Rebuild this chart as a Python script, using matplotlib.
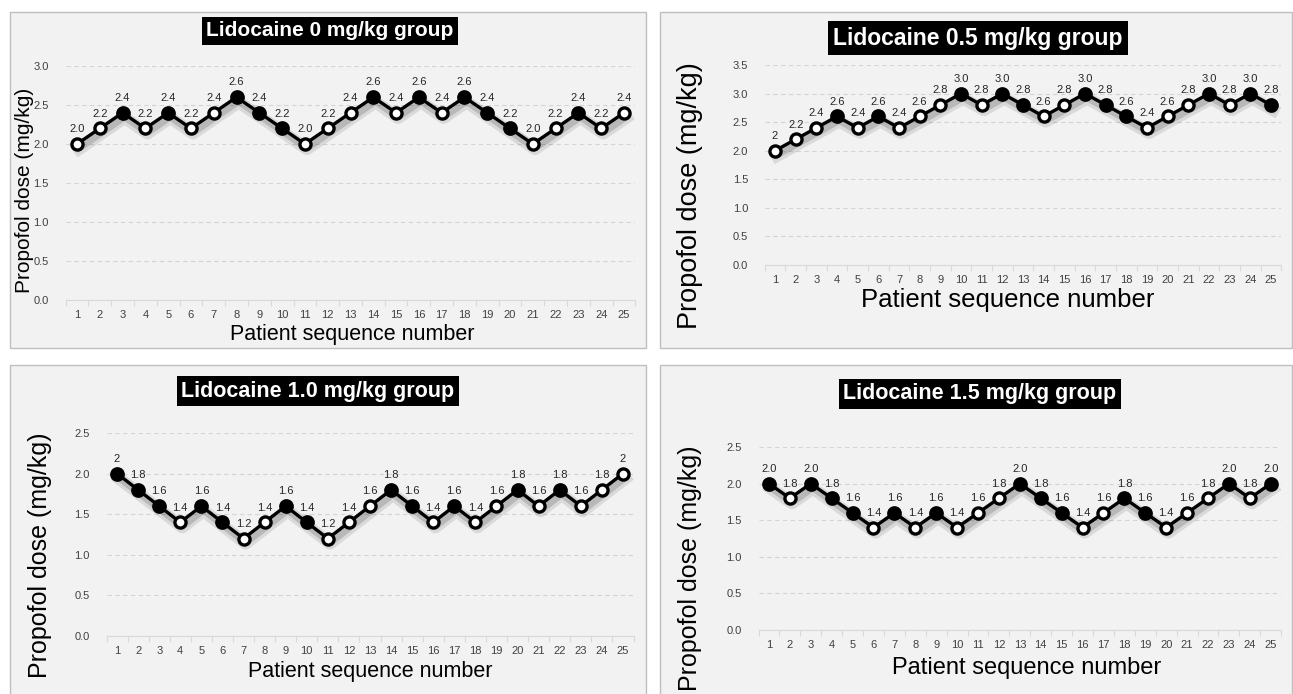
import matplotlib
matplotlib.use("Agg")
import matplotlib.pyplot as plt
import matplotlib.patheffects as pe
from matplotlib.patches import Rectangle

# --- DATA ---
patients = list(range(1, 26))

dose_0 = [2.0, 2.2, 2.4, 2.2, 2.4, 2.2, 2.4, 2.6, 2.4, 2.2, 2.0, 2.2, 2.4,
          2.6, 2.4, 2.6, 2.4, 2.6, 2.4, 2.2, 2.0, 2.2, 2.4, 2.2, 2.4]
resp_0 = [0, 0, 1, 0, 1, 0, 0, 1, 1, 1, 0, 0, 0, 1, 0, 1, 0, 1, 1, 1, 0, 0, 1, 0, 0]

dose_05 = [2.0, 2.2, 2.4, 2.6, 2.4, 2.6, 2.4, 2.6, 2.8, 3.0, 2.8, 3.0, 2.8,
           2.6, 2.8, 3.0, 2.8, 2.6, 2.4, 2.6, 2.8, 3.0, 2.8, 3.0, 2.8]
resp_05 = [0, 0, 0, 1, 0, 1, 0, 0, 0, 1, 0, 1, 1, 0, 0, 1, 1, 1, 0, 0, 0, 1, 0, 1, 1]

dose_10 = [2.0, 1.8, 1.6, 1.4, 1.6, 1.4, 1.2, 1.4, 1.6, 1.4, 1.2, 1.4, 1.6,
           1.8, 1.6, 1.4, 1.6, 1.4, 1.6, 1.8, 1.6, 1.8, 1.6, 1.8, 2.0]
resp_10 = [1, 1, 1, 0, 1, 1, 0, 0, 1, 1, 0, 0, 0, 1, 1, 0, 1, 0, 0, 1, 0, 1, 0, 0, 0]

dose_15 = [2.0, 1.8, 2.0, 1.8, 1.6, 1.4, 1.6, 1.4, 1.6, 1.4, 1.6, 1.8, 2.0,
           1.8, 1.6, 1.4, 1.6, 1.8, 1.6, 1.4, 1.6, 1.8, 2.0, 1.8, 2.0]
resp_15 = [1, 0, 1, 1, 1, 0, 1, 0, 1, 0, 0, 0, 1, 1, 1, 0, 0, 1, 1, 0, 0, 0, 1, 0, 1]

titles = ["Lidocaine 0 mg/kg group", "Lidocaine 0.5 mg/kg group",
          "Lidocaine 1.0 mg/kg group", "Lidocaine 1.5 mg/kg group"]
y_max = [3.0, 3.5, 2.5, 2.5]
# points whose label is written without a decimal ("2")
plain_labels = [[], [1], [1, 25], []]

W, H = 1293, 694
plt.rcParams['font.family'] = ['Liberation Sans', 'DejaVu Sans']

fig = plt.figure(figsize=(W / 100, H / 100), dpi=100)
fig.patch.set_facecolor('white')


def px(x0, y0, x1, y1):
    # pixel box (left, top, right, bottom) -> figure fraction rect
    return [x0 / W, 1 - y1 / H, (x1 - x0) / W, (y1 - y0) / H]


def ftext(x, y, s, **kw):
    fig.text(x / W, 1 - y / H, s, **kw)


# panel frame, axes box, title centre, ylabel centre, xlabel centre, font sizes
layout = [
    dict(frame=(10, 12, 646, 348), ax=(65.6, 66, 635.4, 300), title=(330, 31),
         ylab=(25, 190), xlab=(352, 335), tfs=15, lfs=15, xfs=15.5),
    dict(frame=(660, 12, 1292, 348), ax=(764.7, 65, 1281.3, 265), title=(978, 38),
         ylab=(690, 196), xlab=(1008, 300), tfs=16.5, lfs=19.5, xfs=18.5),
    dict(frame=(10, 365, 646, 702), ax=(106.5, 433, 633.5, 636), title=(318, 391),
         ylab=(40, 555), xlab=(370, 672), tfs=15.5, lfs=18, xfs=15.5),
    dict(frame=(660, 365, 1292, 702), ax=(758.5, 447, 1281.2, 630), title=(980, 394),
         ylab=(690, 568), xlab=(1027, 668), tfs=15.5, lfs=18, xfs=17),
]

groups = [(dose_0, resp_0), (dose_05, resp_05), (dose_10, resp_10), (dose_15, resp_15)]

shadow = [pe.SimpleLineShadow(offset=(1.5, -3.5), shadow_color='#000000', alpha=0.10, linewidth=9),
          pe.SimpleLineShadow(offset=(1.5, -3.0), shadow_color='#000000', alpha=0.15, linewidth=5),
          pe.Normal()]

for i, (dose, resp) in enumerate(groups):
    lay = layout[i]
    fx0, fy0, fx1, fy1 = lay['frame']
    fig.patches.append(Rectangle((fx0 / W, 1 - fy1 / H), (fx1 - fx0) / W, (fy1 - fy0) / H,
                                 transform=fig.transFigure, facecolor='#f2f2f2',
                                 edgecolor='#bfbfbf', linewidth=1.0, zorder=-5))

    ax = fig.add_axes(px(*lay['ax']))
    ax.set_facecolor('none')
    ax.set_xlim(0.5, 25.5)
    ax.set_ylim(0, y_max[i])

    ax.plot(patients, dose, color='black', linewidth=2.4, zorder=3, path_effects=shadow,
            clip_on=False)
    filled_x = [p for p, r in zip(patients, resp) if r == 1]
    filled_y = [d for d, r in zip(dose, resp) if r == 1]
    open_x = [p for p, r in zip(patients, resp) if r == 0]
    open_y = [d for d, r in zip(dose, resp) if r == 0]
    ax.plot(filled_x, filled_y, 'o', markersize=9, markerfacecolor='black',
            markeredgecolor='black', markeredgewidth=1.6, zorder=4, clip_on=False)
    ax.plot(open_x, open_y, 'o', markersize=8, markerfacecolor='white',
            markeredgecolor='black', markeredgewidth=2.4, zorder=4, clip_on=False)

    for p, d in zip(patients, dose):
        lbl = f"{d:.0f}" if p in plain_labels[i] else f"{d:.1f}"
        ax.annotate(lbl, (p, d), xytext=(0, 7), textcoords='offset points',
                    ha='center', va='bottom', fontsize=8, color='#262626', zorder=5)

    yt = [k * 0.5 for k in range(int(y_max[i] / 0.5) + 1)]
    ax.set_yticks(yt)
    ax.set_yticklabels([f"{v:.1f}" for v in yt])
    ax.set_xticks(patients)
    ax.set_xticklabels([str(p) for p in patients])
    ax.set_xticks([p - 0.5 for p in patients] + [25.5], minor=True)
    ax.tick_params(axis='both', which='major', length=0, labelsize=8,
                   labelcolor='#404040')
    ax.tick_params(axis='x', which='major', pad=7)
    ax.tick_params(axis='y', which='major', pad=12)
    ax.tick_params(axis='x', which='minor', length=4, color='#d9d9d9', width=0.8)
    ax.grid(axis='y', color='#d4d4d4', linestyle=(0, (4, 3)), linewidth=0.8)
    ax.set_axisbelow(True)
    for side in ['top', 'right', 'left']:
        ax.spines[side].set_visible(False)
    ax.spines['bottom'].set_color('#d9d9d9')
    ax.spines['bottom'].set_linewidth(0.8)

    tx, ty = lay['title']
    ftext(tx, ty, titles[i], ha='center', va='center', fontsize=lay['tfs'],
          fontweight='bold', color='white',
          bbox=dict(facecolor='black', edgecolor='none', boxstyle='square,pad=0.22'))
    lx, ly = lay['ylab']
    ftext(lx, ly, "Propofol dose (mg/kg)", rotation=90, ha='center', va='center',
          fontsize=lay['lfs'], color='black')
    xx, xy = lay['xlab']
    ftext(xx, xy, "Patient sequence number", ha='center', va='center',
          fontsize=lay['xfs'], color='black')

fig.savefig("out.png", dpi=100, facecolor='white')
